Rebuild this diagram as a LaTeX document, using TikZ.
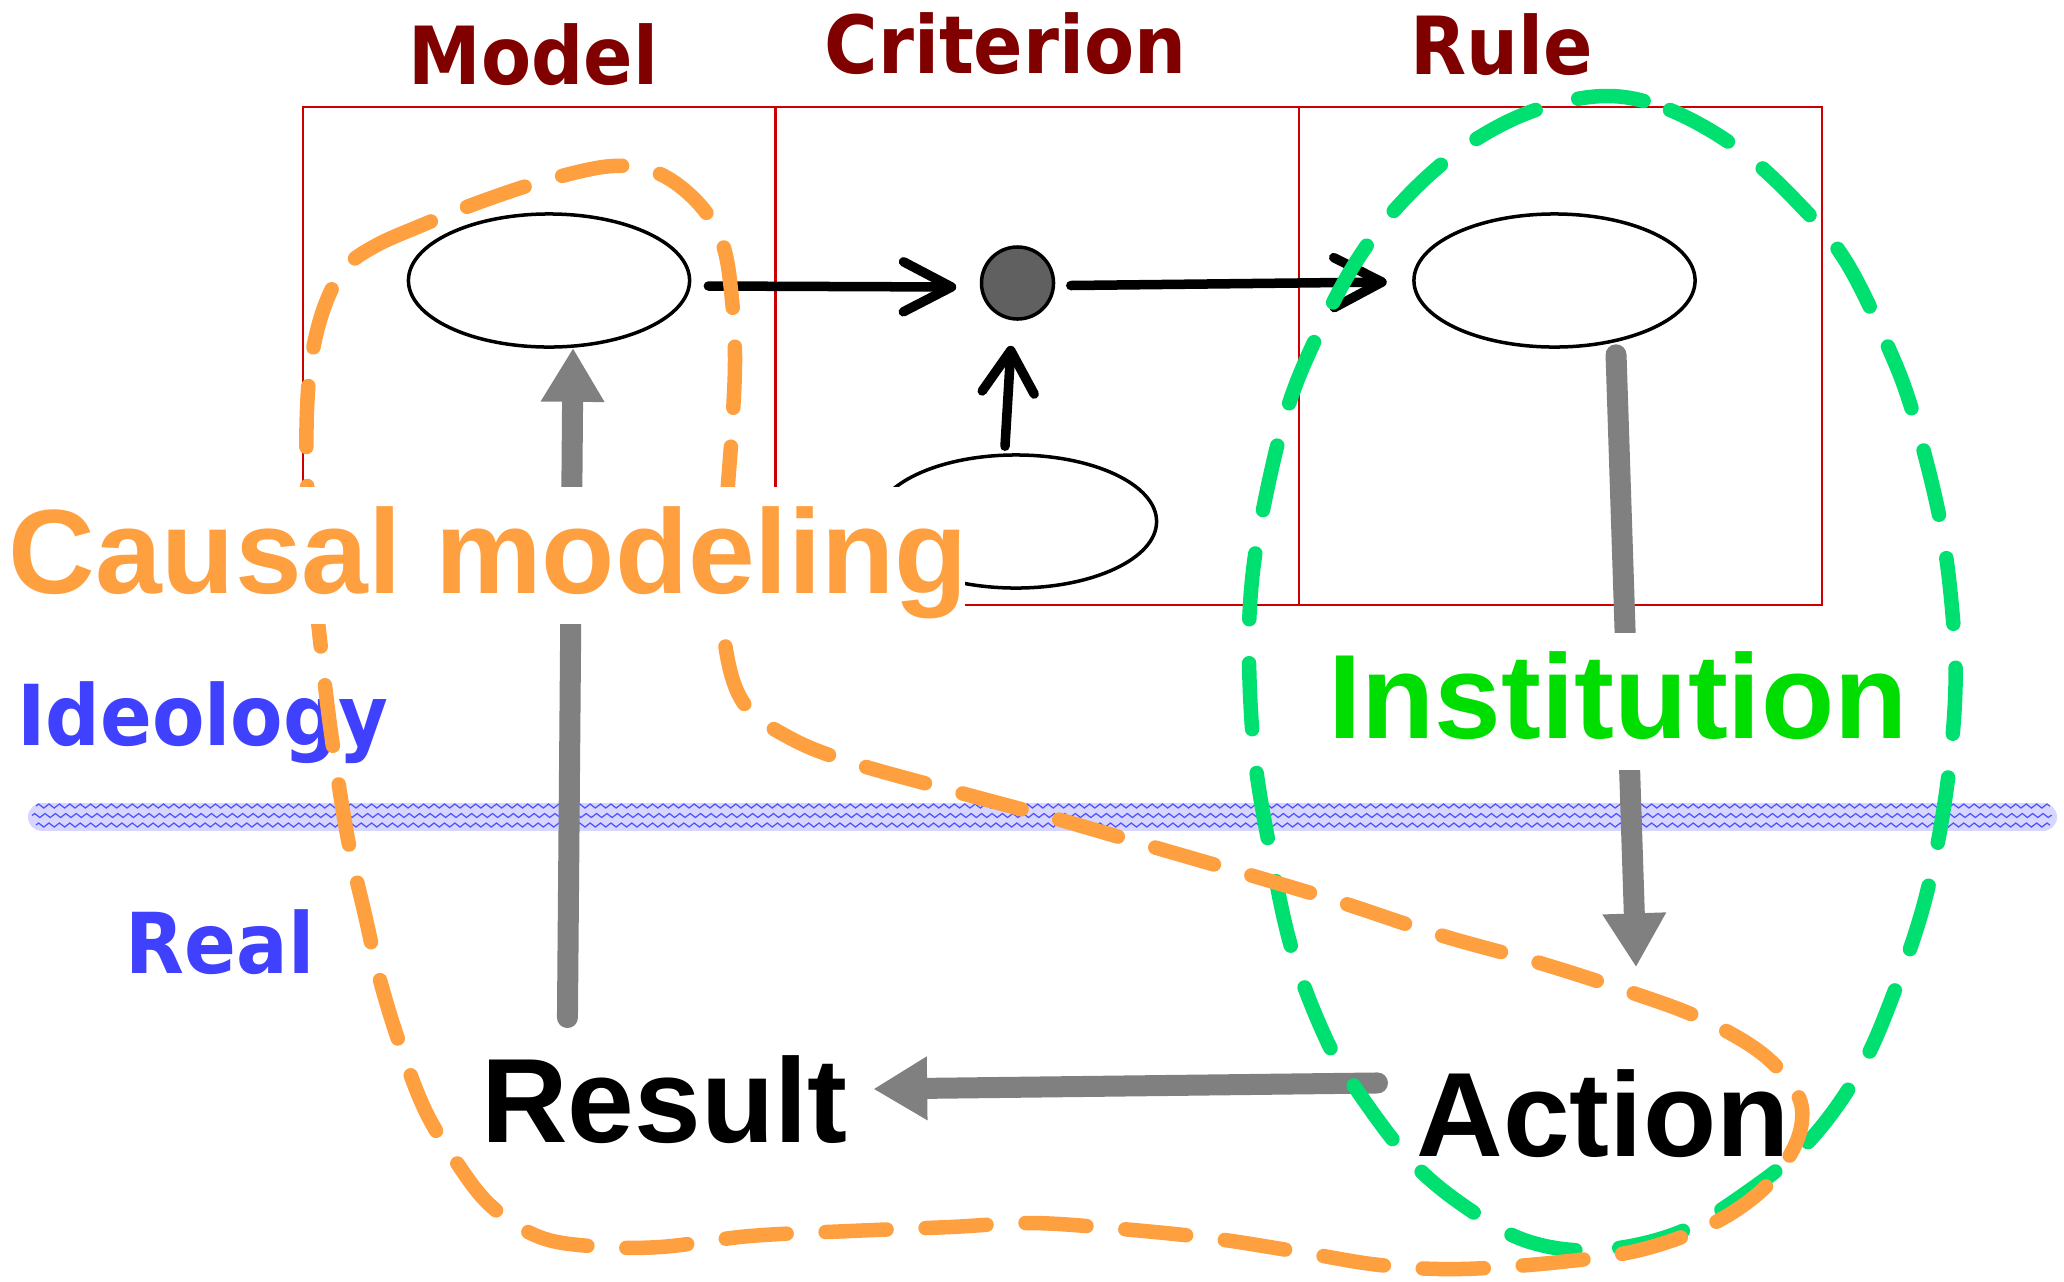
\documentclass[tikz,border=0pt]{standalone}
\usepackage{fontspec}
\newfontfamily\hdfont{DejaVu Sans}[FakeStretch=0.91]
\newfontfamily\arfont{Liberation Sans}
\usetikzlibrary{shapes.geometric,arrows.meta,decorations.pathmorphing}
\definecolor{cHead}{RGB}{128,0,0}
\definecolor{cBox}{RGB}{204,0,0}
\definecolor{cOrange}{RGB}{255,160,64}
\definecolor{cGreenDash}{RGB}{0,224,112}
\definecolor{cGreenText}{RGB}{0,221,0}
\definecolor{cBlueText}{RGB}{64,64,255}
\definecolor{cBand}{RGB}{214,214,255}
\definecolor{cZig}{RGB}{80,80,255}
\definecolor{cGrey}{RGB}{128,128,128}
\definecolor{cDot}{RGB}{96,96,96}
\begin{document}
\begin{tikzpicture}[x=0.01cm,y=-0.01cm,
  heading/.style={text=cHead, font=\hdfont\bfseries\fontsize{22.8pt}{27pt}\selectfont, anchor=base, inner sep=0pt},
  layer/.style={text=cBlueText, font=\hdfont\bfseries\fontsize{23.9pt}{28pt}\selectfont, anchor=base, inner sep=0pt},
  bigword/.style={font=\arfont\bfseries\fontsize{34.1pt}{40pt}\selectfont, anchor=base, inner sep=0pt},
  oval/.style={ellipse, draw=black, line width=0.035cm, minimum width=2.81cm, minimum height=1.33cm, inner sep=0pt},
  blkarrow/.style={draw=black, line width=0.095cm, line cap=round, -{Straight Barb[length=0.48cm,width=0.5cm,round]}},
  greyarrow/.style={draw=cGrey, line width=0.21cm, line cap=round, -{Triangle[length=0.53cm,width=0.64cm,line width=0pt]}},
  orangedash/.style={draw=cOrange, line width=0.145cm, line cap=round, dash pattern=on 0.61cm off 0.39cm},
  greendash/.style={draw=cGreenDash, line width=0.145cm, line cap=round, dash pattern=on 0.66cm off 0.44cm},
  boxline/.style={draw=cBox, line width=0.025cm},
  zig/.style={draw=cZig, line width=0.35pt, decorate, decoration={zigzag, segment length=0.104cm, amplitude=0.02cm}}
]
\useasboundingbox (0,0) rectangle (2064,1281);

% red frame
\draw[boxline] (303,107) rectangle (1822,605);
\draw[boxline] (775.5,107) -- (775.5,605);
\draw[boxline] (1299,107) -- (1299,605);

% ideology / real border band
\draw[draw=cBand, line width=0.28cm, line cap=round] (42,817) -- (2043,817);
\draw[zig] (36,806) -- (2050,806);
\draw[zig] (32,815.5) -- (2052,815.5);
\draw[zig] (36,825) -- (2050,825);

% ellipses and dot
\node[oval] (model) at (549,280.5) {};
\node[oval] (rule) at (1554.5,280.5) {};
\node[oval] (crit) at (1016,521.5) {};
\node[circle, draw=black, fill=cDot, line width=0.035cm, minimum size=0.72cm, inner sep=0pt] (dot) at (1017.5,283) {};

% words of the lower half
\node[bigword] (result) at (664.5,1142) {Result};
\node[bigword] (action) at (1603,1156) {Action};

% black arrows
\draw[blkarrow] ([xshift=0.17cm,yshift=-0.055cm]model.east) -- ([xshift=-0.235cm,yshift=-0.04cm]dot.west);
\draw[blkarrow] ([xshift=0.155cm,yshift=-0.025cm]dot.east) -- ([xshift=-0.254cm,yshift=-0.015cm]rule.west);
\draw[blkarrow, -{Straight Barb[length=0.42cm,width=0.52cm,round]}] ([xshift=-0.11cm,yshift=0.07cm]crit.north) -- ([xshift=-0.065cm,yshift=-0.25cm]dot.south);

% grey arrows
\draw[greyarrow] ([xshift=-0.97cm,yshift=1.244cm]result.base) -- ([xshift=0.24cm]model.south);
\draw[greyarrow] ([xshift=0.615cm,yshift=-0.06cm]rule.south) -- ([xshift=0.33cm,yshift=1.895cm]action.base);
\draw[greyarrow] ([xshift=-2.254cm,yshift=0.73cm]action.base) -- ([xshift=2.095cm,yshift=0.53cm]result.base);

% layer labels
\node[layer] (ideology) at (202.5,745) {Ideology};
\node[layer] (real) at (220,973) {Real};

% green dashed loop (Institution)
\draw[greendash] plot[smooth cycle, tension=0.6] coordinates {
 (1605,96) (1670,110) (1740,150) (1800,205) (1845,260) (1885,340) (1912,410)
 (1940,520) (1953,620) (1955,700) (1945,800) (1925,900) (1895,990) (1860,1070)
 (1810,1140) (1750,1190) (1680,1232) (1600,1250) (1530,1242) (1470,1210)
 (1410,1160) (1350,1080) (1322,1030) (1292,950) (1272,860) (1255,760) (1249,660)
 (1252,580) (1265,500) (1287,410) (1315,340) (1354,265) (1400,204) (1460,150) (1530,112)};

% orange dashed loop (Causal modeling)
\draw[orangedash] plot[smooth cycle, tension=0.6] coordinates {
 (345,268) (375,246) (420,226) (480,202) (547,180) (613,166) (660,174) (700,205)
 (723,245) (732,300) (735,360) (732,430) (727,500) (724,580) (726,650) (745,705)
 (790,738) (850,762) (950,790) (1050,817) (1150,846) (1250,875) (1340,902)
 (1440,935) (1540,963) (1630,992) (1700,1018) (1760,1052) (1795,1090) (1802,1120)
 (1790,1155) (1760,1192) (1710,1225) (1640,1250) (1560,1262) (1460,1269)
 (1380,1265) (1300,1252) (1210,1238) (1110,1228) (1030,1223) (950,1227)
 (850,1231) (750,1236) (660,1247) (590,1246) (537,1236) (490,1205) (455,1160)
 (425,1110) (400,1045) (380,980) (365,915) (350,850) (338,780) (328,710)
 (320,640) (312,560) (307,480) (307,410) (312,355) (325,305)};

% big labels on white
\fill[white] (0,487) rectangle (965,624);
\node[bigword, text=cOrange] (causal) at (488.5,593) {Causal modeling};
\fill[white] (1320,633) rectangle (1920,770);
\node[bigword, text=cGreenText] (institution) at (1618,738) {Institution};

% column headings
\node[heading] (hmodel) at (533.5,84.5) {Model};
\node[heading] (hcrit) at (1005.5,73) {Criterion};
\node[heading] (hrule) at (1502,74) {Rule};
\end{tikzpicture}
\end{document}
